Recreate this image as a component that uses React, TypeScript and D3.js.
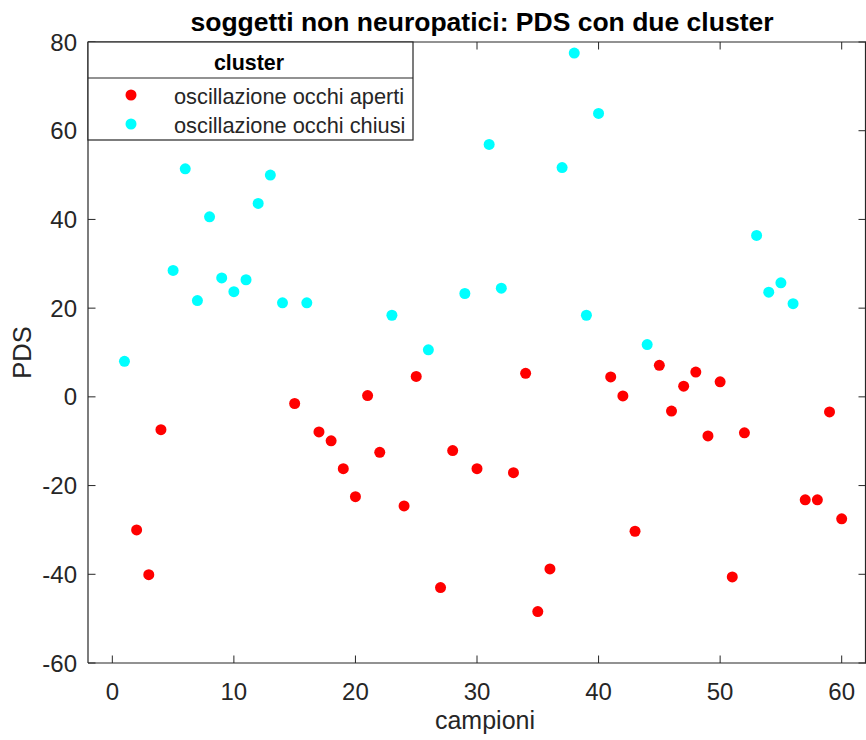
import React from "react";
import * as d3 from "d3";

const samplesOpen = [2, 3, 4, 15, 17, 18, 19, 20, 21, 22, 24, 25, 27, 28, 30, 33, 34, 35, 36, 41, 42, 43, 45, 46, 47, 48, 49, 50, 51, 52, 57, 58, 59, 60];
const pdsOpen = [-30, -40.1, -7.4, -1.5, -7.9, -9.9, -16.2, -22.5, 0.3, -12.5, -24.6, 4.6, -43, -12.1, -16.2, -17.1, 5.3, -48.4, -38.8, 4.5, 0.2, -30.3, 7.1, -3.2, 2.4, 5.6, -8.8, 3.4, -40.6, -8.1, -23.2, -23.2, -3.4, -27.5];
const samplesClosed = [1, 5, 6, 7, 8, 9, 10, 11, 12, 13, 14, 16, 23, 26, 29, 31, 32, 37, 38, 39, 40, 44, 53, 54, 55, 56];
const pdsClosed = [8, 28.5, 51.4, 21.7, 40.6, 26.8, 23.7, 26.4, 43.6, 50, 21.2, 21.2, 18.4, 10.6, 23.3, 56.9, 24.5, 51.7, 77.5, 18.4, 63.9, 11.8, 36.4, 23.6, 25.7, 21];
const xTicks = [0, 10, 20, 30, 40, 50, 60];
const yTicks = [-60, -40, -20, 0, 20, 40, 60, 80];
const seriesNames = ["oscillazione occhi aperti", "oscillazione occhi chiusi"];
const seriesColors = ["#ff0000", "#00ffff"];

const W = 866, H = 740;
const L = 88, R = 866, T = 42, B = 663;
const FONT = "'Liberation Sans', Arial, Helvetica, sans-serif";
const AX = "#262626";

export default function App() {
  const x = d3.scaleLinear().domain([-2, 62]).range([L, R]);
  const y = d3.scaleLinear().domain([-60, 80]).range([B, T]);
  const tick = 7.5;
  const open = samplesOpen.map((s, i) => [s, pdsOpen[i]]);
  const closed = samplesClosed.map((s, i) => [s, pdsClosed[i]]);
  return (
    <svg width={W} height={H} style={{ position: "absolute", left: 0, top: 0, background: "#fff" }} fontFamily={FONT}>
      <rect x={0} y={0} width={W} height={H} fill="#fff" />
      <line x1={L} x2={R} y1={B} y2={B} stroke={AX} strokeWidth={1.2} />
      <line x1={L} x2={R} y1={T} y2={T} stroke={AX} strokeWidth={1.2} />
      <line x1={L} x2={L} y1={T} y2={B} stroke={AX} strokeWidth={1.2} />
      <line x1={R - 0.5} x2={R - 0.5} y1={T} y2={B} stroke={AX} strokeWidth={1.2} />
      {xTicks.map((t) => (
        <g key={"x" + t}>
          <line x1={x(t)} x2={x(t)} y1={B} y2={B - tick} stroke={AX} />
          <line x1={x(t)} x2={x(t)} y1={T} y2={T + tick} stroke={AX} />
          <text x={x(t)} y={700} textAnchor="middle" fontSize={24} fill={AX}>{t}</text>
        </g>
      ))}
      {yTicks.map((t) => (
        <g key={"y" + t}>
          <line x1={L} x2={L + tick} y1={y(t)} y2={y(t)} stroke={AX} />
          <line x1={R} x2={R - tick} y1={y(t)} y2={y(t)} stroke={AX} />
          <text x={L - 11} y={y(t) + 8.5} textAnchor="end" fontSize={24} fill={AX}>{t}</text>
        </g>
      ))}
      <text x={(L + R) / 2 + 8} y={729} textAnchor="middle" fontSize={25} fill={AX}>campioni</text>
      <text transform={`translate(31, ${(T + B) / 2}) rotate(-90)`} textAnchor="middle" fontSize={25.5} fill={AX}>PDS</text>
      <text x={482} y={31} textAnchor="middle" fontSize={26.5} fontWeight="bold" fill="#000">soggetti non neuropatici: PDS con due cluster</text>
      {open.map(([s, v], i) => (
        <circle key={"o" + i} cx={x(s)} cy={y(v)} r={5.5} fill={seriesColors[0]} />
      ))}
      {closed.map(([s, v], i) => (
        <circle key={"c" + i} cx={x(s)} cy={y(v)} r={5.5} fill={seriesColors[1]} />
      ))}
      <g>
        <rect x={L} y={T} width={325} height={98} fill="#fff" stroke={AX} strokeWidth={1.2} />
        <line x1={L} x2={L + 325} y1={78} y2={78} stroke={AX} strokeWidth={1.2} />
        <text x={249} y={70} textAnchor="middle" fontSize={21.4} fontWeight="bold" fill="#000">cluster</text>
        {seriesNames.map((n, i) => (
          <g key={n}>
            <circle cx={131} cy={95 + i * 29} r={5.5} fill={seriesColors[i]} />
            <text x={174} y={104 + i * 29} fontSize={21.8} fill={AX}>{n}</text>
          </g>
        ))}
      </g>
    </svg>
  );
}
